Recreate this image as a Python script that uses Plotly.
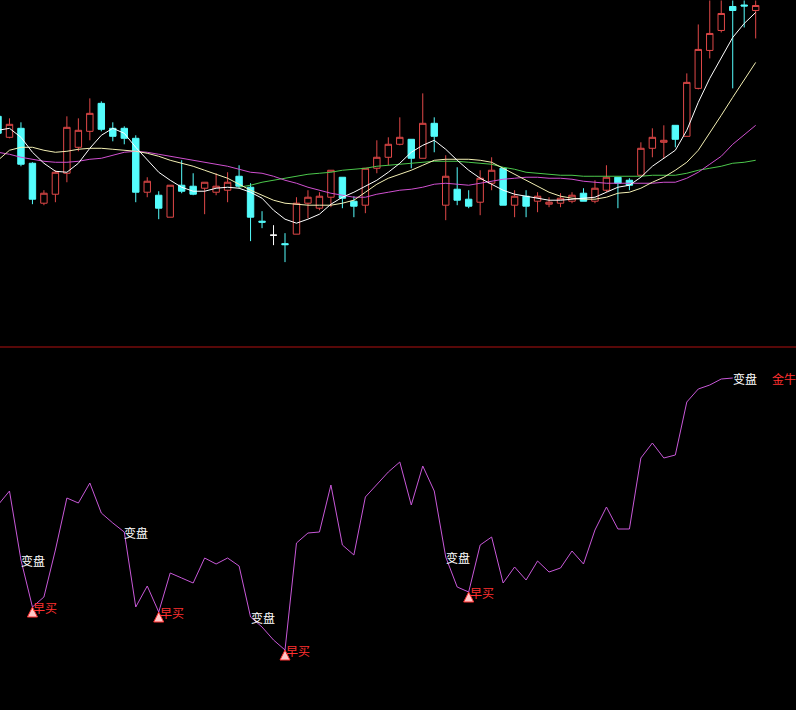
import plotly.graph_objects as go

# ---------------- data ----------------
idx = list(range(67))

open_ = [18.4, 16.3, 17.2, 13.7, 9.7, 10.6, 12.7, 15.3, 16.9, 19.7,
         17.2, 17.2, 16.2, 10.8, 10.5, 8.3, 11.5, 11.4, 11.2, 10.8,
         11.0, 12.4, 11.3, 7.9, 6.5, 5.65, 6.6, 9.7, 9.2, 10.3,
         12.3, 9.9, 9.5, 13.2, 14.3, 15.6, 16.1, 14.2, 17.7, 9.5,
         11.1, 10.1, 9.8, 11.7, 13.2, 9.5, 10.4, 9.9, 9.6, 9.7,
         9.9, 10.7, 9.9, 11.0, 12.3, 12.0, 12.5, 15.2, 15.8, 17.5,
         16.4, 21.2, 25.0, 27.0, 29.4, 29.55, 29.0]
high = [18.8, 18.2, 17.8, 13.8, 11.0, 13.0, 18.4, 18.2, 20.2, 19.9,
        17.8, 17.4, 16.5, 12.3, 10.9, 11.5, 14.0, 12.7, 11.8, 12.7,
        12.8, 13.5, 11.7, 8.9, 7.5, 6.7, 10.3, 11.0, 10.8, 13.0,
        12.3, 10.4, 13.2, 16.0, 16.3, 18.3, 16.1, 20.7, 18.3, 14.5,
        13.3, 11.0, 13.0, 14.3, 13.2, 11.0, 11.0, 10.8, 10.3, 10.7,
        10.8, 11.2, 12.0, 13.5, 12.3, 12.2, 15.8, 17.2, 17.5, 17.5,
        22.7, 27.6, 30.0, 30.0, 30.0, 30.0, 30.0]
low = [16.4, 16.2, 13.4, 9.6, 9.5, 9.8, 11.8, 14.9, 16.0, 16.9,
       15.9, 15.6, 9.8, 10.3, 8.1, 8.3, 10.7, 10.5, 8.6, 10.5,
       9.8, 11.2, 5.9, 7.2, 5.5, 3.8, 6.6, 8.2, 9.0, 9.3,
       9.2, 8.3, 8.7, 12.7, 13.5, 15.5, 13.2, 14.2, 14.8, 8.0,
       9.5, 9.2, 8.5, 11.0, 9.5, 8.3, 8.3, 8.8, 9.3, 9.3,
       9.7, 9.9, 9.7, 10.8, 9.2, 11.0, 12.5, 14.3, 14.2, 15.3,
       16.4, 21.1, 24.2, 26.8, 21.2, 27.3, 26.2]
close = [16.7, 17.6, 13.6, 10.1, 10.7, 12.8, 17.3, 17.0, 18.7, 17.1,
         16.4, 16.2, 10.8, 11.9, 9.2, 11.5, 10.9, 10.6, 11.8, 11.4,
         11.8, 11.4, 8.3, 7.8, 6.5, 5.55, 9.7, 10.3, 10.4, 13.0,
         10.2, 9.4, 13.2, 14.3, 15.6, 16.3, 14.2, 17.7, 16.4, 12.4,
         10.0, 9.4, 12.2, 13.0, 9.5, 10.4, 9.4, 10.4, 9.8, 10.2,
         10.5, 9.9, 11.2, 12.3, 11.7, 11.5, 15.2, 16.3, 16.0, 16.1,
         21.8, 25.1, 26.7, 28.7, 29.0, 29.45, 29.5]

ma5 = [17.0, 17.2, 16.3, 14.8, 13.7, 12.9, 12.8, 13.7, 15.2, 16.5,
       17.2, 16.7, 15.3, 14.0, 12.8, 12.0, 11.3, 10.9, 10.9, 11.2,
       11.3, 11.2, 10.8, 10.2, 9.0, 8.1, 7.7, 8.1, 8.6, 9.6,
       10.3, 10.8, 11.4, 12.0, 12.8, 13.7, 14.8, 15.5, 16.0, 15.1,
       14.0, 13.0, 12.2, 11.6, 11.0, 10.6, 10.4, 10.2, 10.0, 10.0,
       10.1, 10.2, 10.3, 10.8, 11.3, 11.5, 12.3, 13.4, 14.2, 15.0,
       17.0, 19.8, 22.2, 24.2, 26.3, 27.7, 28.8]
ma10 = [14.0, 15.0, 15.3, 15.3, 15.0, 14.8, 14.9, 15.1, 15.2, 15.2,
        15.1, 15.0, 14.9, 14.7, 14.4, 14.0, 13.7, 13.4, 13.0, 12.6,
        12.2, 11.6, 11.0, 10.5, 10.0, 9.7, 9.6, 9.5, 9.5, 9.5,
        9.7, 10.0, 10.8, 11.6, 12.2, 12.6, 13.0, 13.5, 14.0, 14.1,
        14.1, 14.1, 14.0, 13.8, 13.2, 12.6, 12.0, 11.4, 10.8, 10.4,
        10.2, 10.1, 10.1, 10.3, 10.7, 10.8, 11.2, 11.8, 12.3, 13.0,
        13.8, 15.0, 16.7, 18.5, 20.3, 22.0, 23.8]
ma20 = [14.8, 14.6, 14.3, 14.1, 13.9, 13.8, 13.8, 13.9, 14.1, 14.2,
        14.5, 14.8, 14.9, 14.8, 14.6, 14.4, 14.2, 14.0, 13.8, 13.6,
        13.4, 13.1, 12.8, 12.7, 12.4, 12.0, 11.7, 11.3, 11.0, 10.7,
        10.5, 10.3, 10.3, 10.6, 10.8, 11.0, 11.1, 11.3, 11.6, 11.7,
        11.6, 11.5, 11.7, 11.9, 12.1, 12.2, 12.3, 12.3, 12.2, 12.2,
        12.1, 11.9, 11.8, 11.7, 11.7, 11.7, 11.7, 11.7, 11.8, 11.8,
        12.2, 12.8, 13.6, 14.4, 15.6, 16.6, 17.5]
ma60 = [None] * 21 + [
        11.3, 11.5, 11.8, 12.0, 12.2, 12.4, 12.6, 12.7, 12.8,
        13.0, 13.1, 13.2, 13.4, 13.5, 13.6, 13.7, 13.8, 13.9, 13.9,
        13.9, 13.8, 13.7, 13.6, 13.3, 13.1, 12.8, 12.7, 12.6, 12.5,
        12.5, 12.4, 12.4, 12.4, 12.4, 12.4, 12.4, 12.5, 12.5, 12.5,
        12.7, 13.0, 13.2, 13.4, 13.7, 13.8, 14.0]

indicator = [19.5, 20.9, 14.0, 9.3, 10.3, 15.0, 20.2, 19.7, 21.7, 18.7,
             17.7, 16.8, 9.3, 11.4, 8.8, 12.7, 12.2, 11.7, 14.2, 13.6,
             14.2, 13.4, 8.3, 7.3, 6.0, 5.0, 15.7, 16.7, 16.8, 21.5,
             15.5, 14.5, 20.3, 21.5, 22.8, 23.8, 19.5, 23.4, 20.9, 14.3,
             11.3, 10.8, 15.5, 16.3, 11.7, 13.3, 12.0, 13.9, 12.8, 13.2,
             14.9, 13.6, 17.0, 19.3, 17.1, 17.1, 24.2, 25.7, 24.2, 24.5,
             29.8, 31.1, 31.5, 32.1, 32.2, None, None]

turn_idx = [2, 11, 22, 39, 64]      # "变盘" marks
buy_idx = [3, 14, 25, 41]           # "早买" marks
flat_idx = [24]                     # open == close (drawn white)
turn_text = "变盘"
buy_text = "早买"
bull_text = "金牛"

# ---------------- style ----------------
BG = "#000000"
RED = "#E04848"
CYAN = "#54FCFC"
FONT = "Noto Sans CJK SC"

fig = go.Figure()

main = [i for i in idx if i not in flat_idx]
fig.add_trace(go.Candlestick(
    x=[idx[i] for i in main],
    open=[open_[i] for i in main], high=[high[i] for i in main],
    low=[low[i] for i in main], close=[close[i] for i in main],
    increasing=dict(line=dict(color=RED, width=1), fillcolor=BG),
    decreasing=dict(line=dict(color=CYAN, width=1), fillcolor=CYAN),
    whiskerwidth=0, hoverinfo="skip", showlegend=False,
    xaxis="x", yaxis="y"))
fig.add_trace(go.Candlestick(
    x=[idx[i] for i in flat_idx],
    open=[open_[i] for i in flat_idx], high=[high[i] for i in flat_idx],
    low=[low[i] for i in flat_idx], close=[close[i] for i in flat_idx],
    increasing=dict(line=dict(color="#FFFFFF", width=1), fillcolor="#FFFFFF"),
    decreasing=dict(line=dict(color="#FFFFFF", width=1), fillcolor="#FFFFFF"),
    whiskerwidth=0, hoverinfo="skip", showlegend=False,
    xaxis="x", yaxis="y"))

for series, col in [(ma60, "#4CC84C"), (ma20, "#D050D0"),
                    (ma10, "#F4F0B4"), (ma5, "#FFFFFF")]:
    fig.add_trace(go.Scatter(x=idx, y=series, mode="lines",
                             line=dict(color=col, width=1),
                             hoverinfo="skip", showlegend=False,
                             xaxis="x", yaxis="y"))

fig.add_trace(go.Scatter(x=idx, y=indicator, mode="lines",
                         line=dict(color="#C858D8", width=1),
                         hoverinfo="skip", showlegend=False,
                         xaxis="x", yaxis="y2"))

fig.add_trace(go.Scatter(x=buy_idx, y=[indicator[i] for i in buy_idx],
                         mode="markers",
                         marker=dict(symbol="arrow-up", size=10, color="#FFC8C8",
                                     line=dict(color="#FF3030", width=1)),
                         hoverinfo="skip", showlegend=False,
                         xaxis="x", yaxis="y2"))

annotations = []
for i in turn_idx:
    annotations.append(dict(x=i, y=indicator[i], xref="x", yref="y2",
                            text=turn_text, showarrow=False,
                            xanchor="left", yanchor="middle", xshift=-2,
                            font=dict(family=FONT, size=12, color="#FFFFFF")))
for i in buy_idx:
    annotations.append(dict(x=i, y=indicator[i], xref="x", yref="y2",
                            text=buy_text, showarrow=False,
                            xanchor="left", yanchor="middle", xshift=-1,
                            font=dict(family=FONT, size=12, color="#FF3030")))
annotations.append(dict(x=1.0, y=indicator[64], xref="paper", yref="y2",
                        text=bull_text, showarrow=False,
                        xanchor="right", yanchor="middle", xshift=2,
                        font=dict(family=FONT, size=12, color="#FF3030")))

W, H = 796, 710
fig.update_layout(
    width=W, height=H,
    margin=dict(l=0, r=0, t=0, b=0),
    paper_bgcolor=BG, plot_bgcolor=BG,
    showlegend=False, boxgap=0.2,
    annotations=annotations,
    xaxis=dict(range=[2 / 11.48, 798 / 11.48], visible=False,
               rangeslider=dict(visible=False), domain=[0, 1]),
    yaxis=dict(domain=[1 - 346 / H, 1], range=[-4.6, 30.05], visible=False),
    yaxis2=dict(domain=[0, 1 - 348 / H], range=[-1.0, 35.2], visible=False,
                anchor="x"),
    shapes=[dict(type="line", xref="paper", yref="paper", x0=0, x1=1,
                 y0=1 - 347 / H, y1=1 - 347 / H,
                 line=dict(color="#B01010", width=1))],
)

fig.write_html("out.html",
               config={"displayModeBar": False},
               post_script="document.body.style.margin='0px';"
                           "document.body.style.background='#000';"
                           "document.body.style.overflow='hidden';")
